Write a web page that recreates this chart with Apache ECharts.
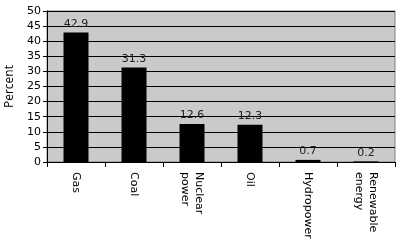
<!DOCTYPE html>
<html><head><meta charset="utf-8">
<script src="https://cdn.jsdelivr.net/npm/echarts@6/dist/echarts.min.js"></script>
<style>html,body{margin:0;padding:0;background:#fff}#c{width:402px;height:243px}</style>
</head><body><div id="c"></div>
<script>
const categories = ['Gas', 'Coal', 'Nuclear\npower', 'Oil', 'Hydropower', 'Renewable\nenergy'];
const values = [42.9, 31.3, 12.6, 12.3, 0.7, 0.2];
const yTicks = [0, 5, 10, 15, 20, 25, 30, 35, 40, 45, 50];

const chart = echarts.init(document.getElementById('c'), null, {renderer: 'canvas'});
const font = 'DejaVu Sans';
chart.setOption({
  animation: false,
  grid: {left: 47, right: 7, top: 11, bottom: 81, outerBoundsMode: 'none', show: true, backgroundColor: '#CACACA', borderColor: '#808080', borderWidth: 1},
  xAxis: {
    type: 'category', data: categories, boundaryGap: true,
    axisLine: {lineStyle: {color: '#000', width: 1}},
    axisTick: {show: true, length: 5, interval: 0, lineStyle: {color: '#000'}},
    axisLabel: {rotate: -90, interval: 0, color: '#000', fontSize: 11, fontFamily: font, margin: 10, lineHeight: 14}
  },
  yAxis: {
    type: 'value', min: yTicks[0], max: yTicks[yTicks.length - 1], interval: 5,
    name: 'Percent', nameLocation: 'middle', nameGap: 31, nameRotate: 90,
    nameTextStyle: {color: '#000', fontSize: 12, fontFamily: 'Open Sans'},
    axisLine: {show: true, lineStyle: {color: '#000'}},
    axisTick: {show: true, length: 4, lineStyle: {color: '#000'}},
    axisLabel: {color: '#000', fontSize: 11, fontFamily: font, margin: 6},
    splitLine: {show: true, lineStyle: {color: '#000', width: 1}}
  },
  series: [{
    type: 'bar', data: values, barWidth: 25,
    itemStyle: {color: '#000'},
    label: {show: true, position: 'top', distance: 3, color: '#222', fontSize: 11, fontFamily: font}
  }]
});
</script></body></html>
